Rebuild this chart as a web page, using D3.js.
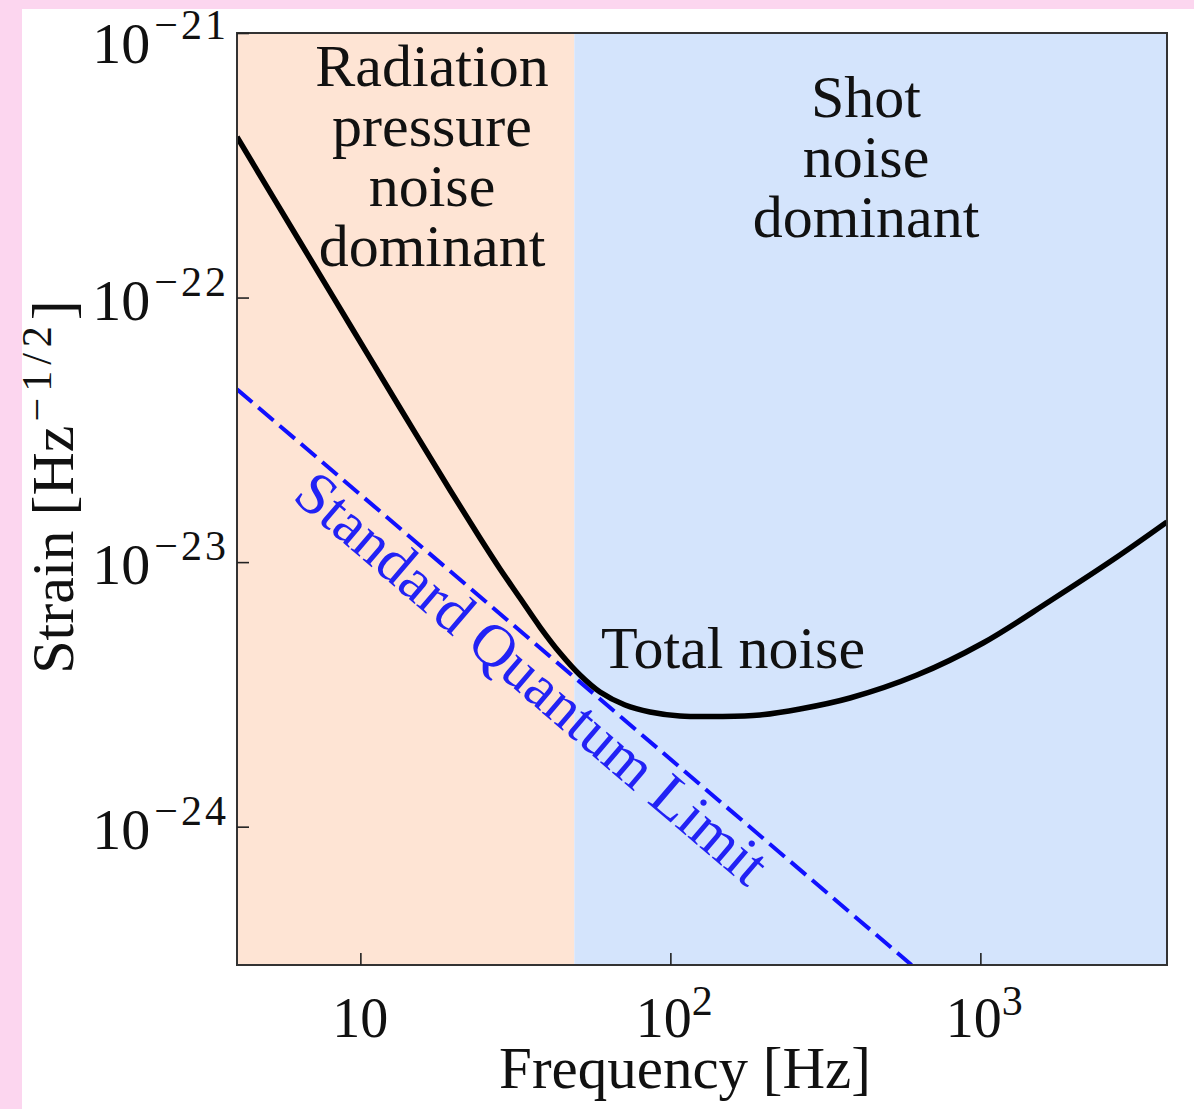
<!DOCTYPE html>
<html><head><meta charset="utf-8">
<script src="https://cdn.jsdelivr.net/npm/d3@7"></script>
<style>body{margin:0;background:#fff;} svg{display:block;}</style>
</head><body><svg id="c" width="1194" height="1109"></svg>
<script>
// ---- data ----
const freq = [4, 6.39, 9.26, 13.43, 19.46, 24.32, 28.22, 32.73, 37.97, 44.06, 51.11, 59.3, 71.42, 85.97, 107.4, 144.6, 194.6, 261.9, 379.7, 624.6, 1020, 1677, 2759, 4000];
const totalNoise = [4.045e-22, 1.622e-22, 7.873e-23, 3.823e-23, 1.873e-23, 1.233e-23, 9.417e-24, 7.316e-24, 5.684e-24, 4.532e-24, 3.742e-24, 3.228e-24, 2.883e-24, 2.713e-24, 2.62e-24, 2.609e-24, 2.643e-24, 2.784e-24, 3.064e-24, 3.742e-24, 4.945e-24, 7.128e-24, 1.045e-23, 1.418e-23];
const sqlFreq = [4, 600];
const sqlStrain = [4.5e-23, 3.0e-25];
const regionBounds = [4, 49, 4000];
const regionColors = ["#fee4d4", "#d4e4fc"];
const regionLabels = [["Radiation", "pressure", "noise", "dominant"], ["Shot", "noise", "dominant"]];
const freqTicks = [10, 100, 1000];
const freqTickSup = ["", "2", "3"];
const strainTicks = [1e-21, 1e-22, 1e-23, 1e-24];
const strainTickSup = ["\u221221", "\u221222", "\u221223", "\u221224"];
const xDomain = [4, 4000];
const yDomain = [3e-25, 1e-21];

(function () {
const svg = d3.select("#c");
const W = 1194, H = 1109;
const serif = "'Liberation Serif', 'Times New Roman', serif";
const pL = 237, pR = 1167, pT = 33, pB = 965;

svg.append("rect").attr("x", 0).attr("y", 0).attr("width", W).attr("height", H).attr("fill", "#fff");
svg.append("rect").attr("x", 0).attr("y", 0).attr("width", W).attr("height", 9).attr("fill", "#fcd6ef");
svg.append("rect").attr("x", 0).attr("y", 0).attr("width", 22).attr("height", H).attr("fill", "#fcd6ef");

const x = d3.scaleLog().domain(xDomain).range([pL, pR]);
const y = d3.scaleLog().domain(yDomain).range([pB, pT]);

svg.append("clipPath").attr("id", "clip").append("rect")
  .attr("x", pL).attr("y", pT).attr("width", pR - pL).attr("height", pB - pT);

// regions
for (let i = 0; i < regionColors.length; i++) {
  svg.append("rect").attr("x", x(regionBounds[i])).attr("y", pT)
    .attr("width", x(regionBounds[i + 1]) - x(regionBounds[i])).attr("height", pB - pT)
    .attr("fill", regionColors[i]);
}

const g = svg.append("g").attr("clip-path", "url(#clip)");

// SQL dashed line
const sqlData = sqlFreq.map((f, i) => [f, sqlStrain[i]]);
g.append("path").datum(sqlData)
  .attr("d", d3.line().x(d => x(d[0])).y(d => y(d[1])))
  .attr("fill", "none").attr("stroke", "#1010ff").attr("stroke-width", 4)
  .attr("stroke-dasharray", "20,8");

// total noise
const totData = freq.map((f, i) => [f, totalNoise[i]]);
g.append("path").datum(totData)
  .attr("d", d3.line().x(d => x(d[0])).y(d => y(d[1])).curve(d3.curveCatmullRom.alpha(0.5)))
  .attr("fill", "none").attr("stroke", "#000").attr("stroke-width", 5.5);

// region labels
const regionLabelPos = [{cx: 432, y0: 86}, {cx: 866, y0: 117}];
regionLabels.forEach((lines, i) => {
  lines.forEach((t, j) => {
    svg.append("text").attr("x", regionLabelPos[i].cx).attr("y", regionLabelPos[i].y0 + j * 60)
      .attr("text-anchor", "middle").attr("font-family", serif).attr("font-size", 60)
      .attr("fill", "#111").text(t);
  });
});

// Total noise label
svg.append("text").attr("x", 601).attr("y", 668).attr("font-family", serif)
  .attr("font-size", 60).attr("fill", "#111").text("Total noise");

// SQL label
const p0 = [x(sqlFreq[0]), y(sqlStrain[0])], p1 = [x(sqlFreq[1]), y(sqlStrain[1])];
const ang = Math.atan2(p1[1] - p0[1], p1[0] - p0[0]);
const along = 412, off = 48;
const lx = p0[0] + along * Math.cos(ang) - off * Math.sin(ang);
const ly = p0[1] + along * Math.sin(ang) + off * Math.cos(ang);
svg.append("text").attr("transform", `translate(${lx},${ly}) rotate(${ang * 180 / Math.PI})`)
  .attr("text-anchor", "middle").attr("font-family", serif).attr("font-size", 60)
  .attr("fill", "#2222f5").text("Standard Quantum Limit");

// frame
svg.append("rect").attr("x", pL).attr("y", pT).attr("width", pR - pL).attr("height", pB - pT)
  .attr("fill", "none").attr("stroke", "#333").attr("stroke-width", 2);

// axes ticks (inward)
const xAxis = svg.append("g").attr("transform", `translate(0,${pB})`)
  .call(d3.axisBottom(x).tickValues(freqTicks).tickSize(-12).tickFormat(""));
const yAxis = svg.append("g").attr("transform", `translate(${pL},0)`)
  .call(d3.axisLeft(y).tickValues(strainTicks).tickSize(-12).tickFormat(""));
[xAxis, yAxis].forEach(a => {
  a.select(".domain").remove();
  a.selectAll(".tick line").attr("stroke", "#222").attr("stroke-width", 1.6);
});

// x tick labels
freqTicks.forEach((f, i) => {
  const t = svg.append("text").attr("x", x(f) + (freqTickSup[i] ? 4 : 0)).attr("y", 1037)
    .attr("text-anchor", "middle").attr("font-family", serif).attr("font-size", 56).attr("fill", "#111");
  t.append("tspan").text("10");
  if (freqTickSup[i]) t.append("tspan").attr("dy", -22).attr("font-size", 42).text(freqTickSup[i]);
});

// y tick labels
strainTicks.forEach((v, i) => {
  const base = Math.max(y(v) + 22, 63);
  const t = svg.append("text").attr("x", 229).attr("y", base)
    .attr("text-anchor", "end").attr("font-family", serif).attr("font-size", 58).attr("fill", "#111");
  t.append("tspan").text("10");
  t.append("tspan").attr("dx", 4).attr("dy", -24).attr("font-size", 42)
    .attr("letter-spacing", 3).text(strainTickSup[i]);
});

// axis titles
svg.append("text").attr("x", 685).attr("y", 1088).attr("text-anchor", "middle")
  .attr("font-family", serif).attr("font-size", 59).attr("fill", "#111").text("Frequency [Hz]");

const yt = svg.append("text").attr("transform", "translate(73,487) rotate(-90)")
  .attr("text-anchor", "middle").attr("font-family", serif).attr("font-size", 60).attr("fill", "#111");
yt.append("tspan").text("Strain [Hz");
yt.append("tspan").attr("dx", 4).attr("dy", -22).attr("font-size", 42).attr("letter-spacing", 6).text("\u22121/2");
yt.append("tspan").attr("dy", 22).text("]");
})();
</script>
</body></html>
